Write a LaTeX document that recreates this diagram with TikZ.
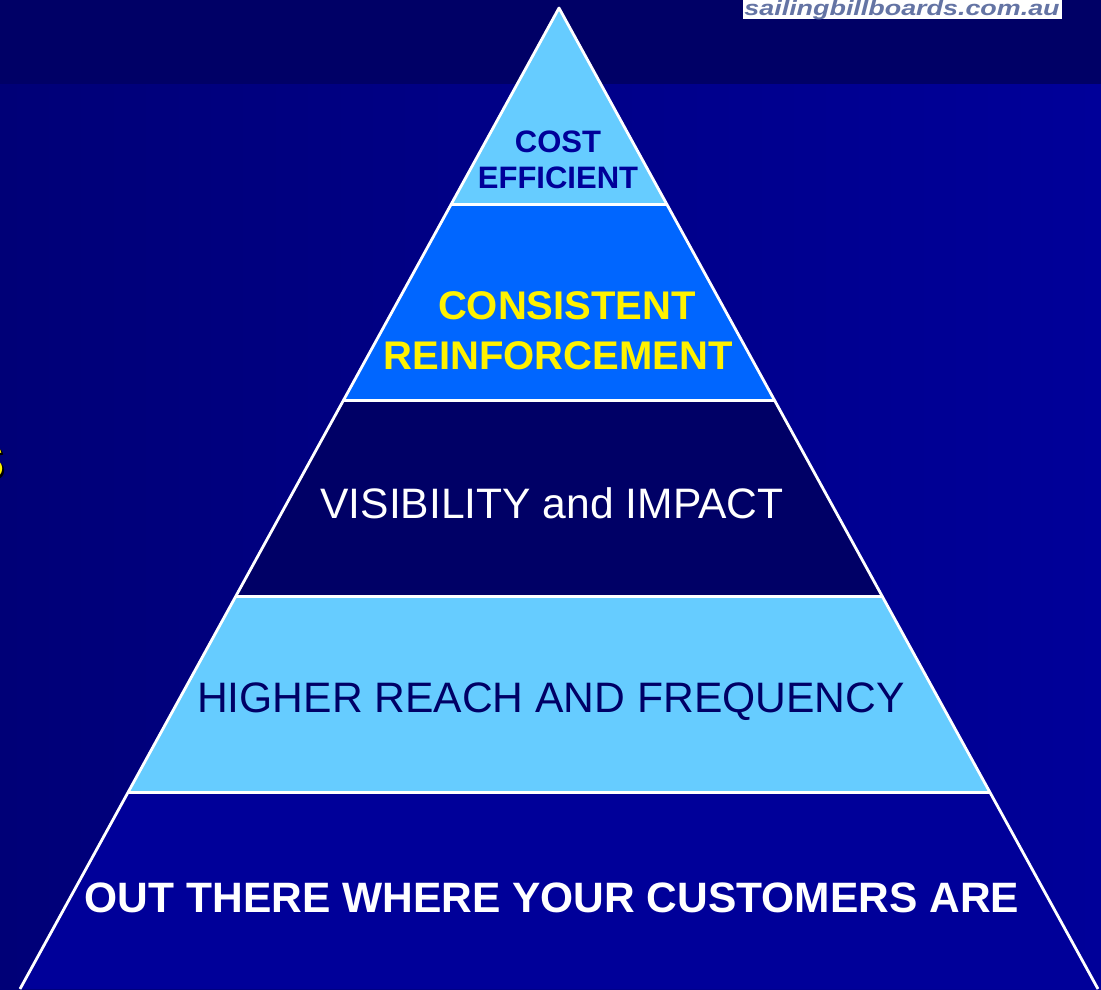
\documentclass[tikz,border=0pt]{standalone}
\usepackage{fontspec}
\setmainfont{Liberation Sans}
\usetikzlibrary{calc}

\definecolor{band}{HTML}{000066}
\definecolor{bgleft}{HTML}{000077}
\definecolor{bgright}{HTML}{000099}
\definecolor{sky}{HTML}{66CCFF}
\definecolor{royal}{HTML}{0066FF}
\definecolor{midnight}{HTML}{000066}
\definecolor{deep}{HTML}{000099}
\definecolor{logoink}{HTML}{6474A4}

\newcommand{\smallcaps}{\bfseries\fontsize{31}{37}\selectfont}
\newcommand{\boldcaps}{\bfseries\fontsize{40}{49}\selectfont}
\newcommand{\plaincaps}{\fontsize{42.6}{50}\selectfont}

\tikzstyle{edge}    = [draw=white, line width=2.8pt, line join=round]
\tikzstyle{caption} = [inner sep=0pt, anchor=base]

\begin{document}
\begin{tikzpicture}[x=1pt, y=-1pt]

    \useasboundingbox (0,0) rectangle (1101,989);
    \clip (0,0) rectangle (1101,989);

    % slide background
    \shade[left color=bgleft, right color=bgright] (0,84) rectangle (1101,989);
    \fill[band] (0,0) rectangle (1101,84);

    % logo strip, top right
    \fill[white] (743,-1) rectangle (1062,19);
    \node[caption, text=logoink, font=\bfseries\itshape\fontsize{21}{21}\selectfont] (logo) at (902,15)
        {\scalebox{1.28}[1]{sailingbillboards.com.au}};

    % heading letter running in from the left
    \node[caption, anchor=base east, text=black, font=\bfseries\fontsize{48}{48}\selectfont] (sshadow) at (7,480) {S};
    \node[caption, anchor=base east, text=yellow, font=\bfseries\fontsize{48}{48}\selectfont] (s) at (5,478) {S};

    % pyramid
    \coordinate (apex)  at (559,8);
    \coordinate (baseL) at (20,989);
    \coordinate (baseR) at (1098,989);

    \foreach \k/\col in {1/sky,2/royal,3/midnight,4/sky,5/deep} {
        \pgfmathsetmacro{\fa}{(\k-1)/5}
        \pgfmathsetmacro{\fb}{\k/5}
        \fill[\col] ($(apex)!\fa!(baseL)$) -- ($(apex)!\fa!(baseR)$)
                 -- ($(apex)!\fb!(baseR)$) -- ($(apex)!\fb!(baseL)$) -- cycle;
    }
    \foreach \k in {1,...,4} {
        \pgfmathsetmacro{\fb}{\k/5}
        \draw[edge] ($(apex)!\fb!(baseL)$) -- ($(apex)!\fb!(baseR)$);
    }
    \draw[edge] (baseL) -- (apex) -- (baseR);

    % tier texts
    \node[caption, font=\smallcaps, text=deep]  (cost)          at (558,152) {COST};
    \node[caption, font=\smallcaps, text=deep]  (efficient)     at (558,188) {EFFICIENT};
    \node[caption, font=\boldcaps, text=yellow] (consistent)    at (567,319) {CONSISTENT};
    \node[caption, font=\boldcaps, text=yellow] (reinforcement) at (558,369) {REINFORCEMENT};
    \node[caption, font=\plaincaps, text=white] (visibility)    at (552,518) {VISIBILITY and IMPACT};
    \node[caption, font=\plaincaps, text=midnight] (reach)      at (551,712) {HIGHER REACH AND FREQUENCY};
    \node[caption, font=\bfseries\fontsize{42.5}{50}\selectfont, text=white] (customers) at (552,912) {OUT THERE WHERE YOUR CUSTOMERS ARE};

\end{tikzpicture}
\end{document}
